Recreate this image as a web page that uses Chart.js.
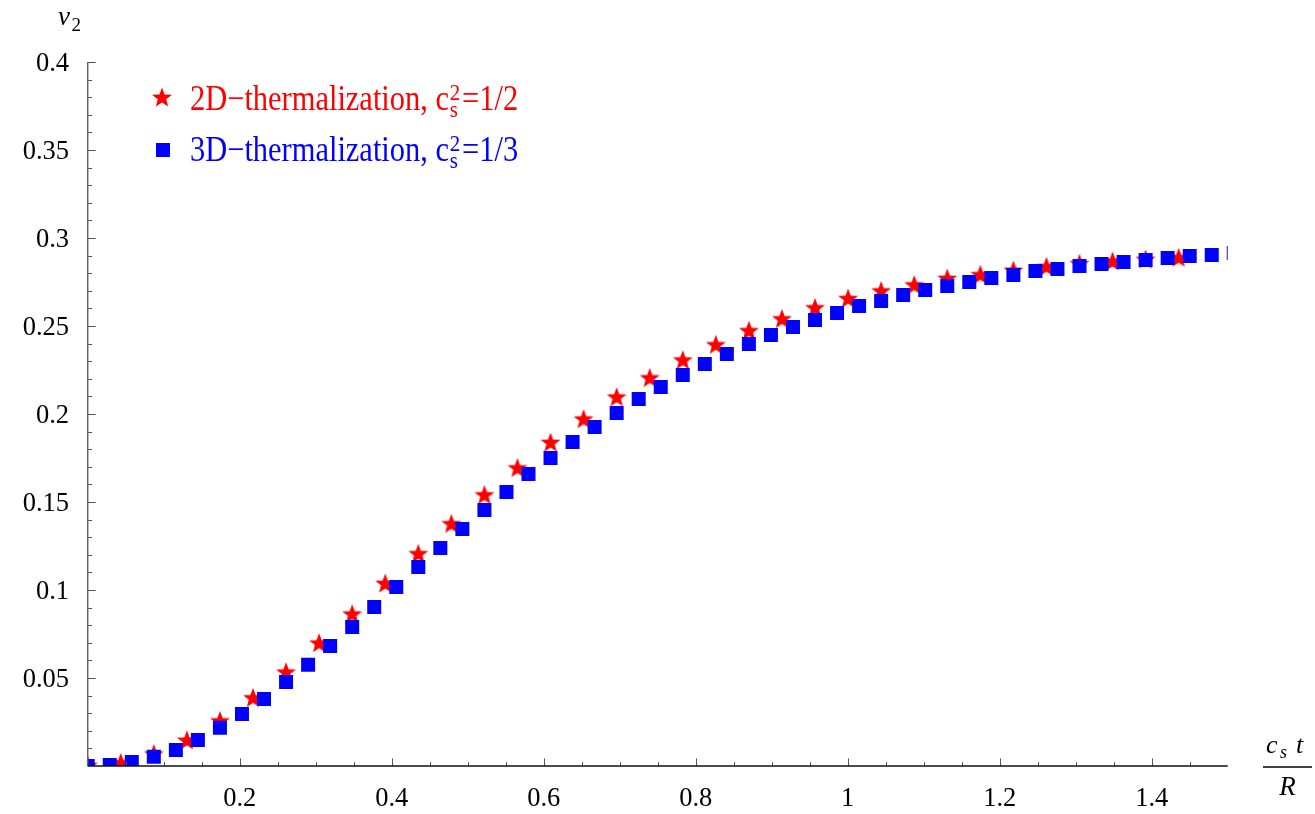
<!DOCTYPE html>
<html>
<head>
<meta charset="utf-8">
<title>v2 vs cs t / R</title>
<script src="https://cdn.jsdelivr.net/npm/chart.js@4.4.1/dist/chart.umd.min.js"></script>
<style>
  html, body { margin: 0; padding: 0; background: #ffffff; }
  #wrap { width: 1315px; height: 814px; }
</style>
</head>
<body>
<div id="wrap"><canvas id="plot" width="1315" height="814"></canvas></div>
<script>
// 2D thermalization, cs^2 = 1/2 (red stars)
const tStars = [0, 0.0435, 0.087, 0.1305, 0.174, 0.2175, 0.261, 0.3045, 0.348, 0.3915,
  0.435, 0.4785, 0.522, 0.5655, 0.609, 0.6525, 0.696, 0.7395, 0.783, 0.8265,
  0.87, 0.9135, 0.957, 1.0005, 1.044, 1.0875, 1.131, 1.1745, 1.218, 1.2615,
  1.305, 1.3485, 1.392, 1.4355];
const v2Stars = [0, 0.0015, 0.0065, 0.0143, 0.0253, 0.0384, 0.053, 0.0695, 0.086, 0.1034,
  0.1203, 0.1373, 0.1537, 0.169, 0.1835, 0.1968, 0.2093, 0.2202, 0.2303, 0.239,
  0.247, 0.2537, 0.26, 0.2653, 0.2696, 0.273, 0.2767, 0.2788, 0.2813, 0.2834,
  0.2851, 0.2864, 0.2875, 0.2885];

// 3D thermalization, cs^2 = 1/3 (blue squares)
const tSquares = [0, 0.029, 0.058, 0.087, 0.116, 0.145, 0.174, 0.203, 0.232, 0.261,
  0.29, 0.319, 0.348, 0.377, 0.406, 0.435, 0.464, 0.493, 0.522, 0.551,
  0.58, 0.609, 0.638, 0.667, 0.696, 0.725, 0.754, 0.783, 0.812, 0.841,
  0.87, 0.899, 0.928, 0.957, 0.986, 1.015, 1.044, 1.073, 1.102, 1.131,
  1.16, 1.189, 1.218, 1.247, 1.276, 1.305, 1.334, 1.363, 1.392, 1.421,
  1.45, 1.479, 1.508];
const v2Squares = [0, 0.0005, 0.0023, 0.0052, 0.0091, 0.0148, 0.0217, 0.0296, 0.038, 0.0477,
  0.0575, 0.0682, 0.079, 0.0903, 0.1017, 0.1131, 0.1239, 0.1347, 0.1455, 0.1557,
  0.1659, 0.175, 0.1841, 0.1926, 0.2006, 0.2085, 0.2153, 0.2222, 0.2284, 0.2341,
  0.2398, 0.2449, 0.2494, 0.2534, 0.2574, 0.2614, 0.2642, 0.2676, 0.2705, 0.2727,
  0.275, 0.2773, 0.279, 0.2813, 0.2824, 0.2841, 0.2852, 0.2864, 0.2875, 0.2886,
  0.2898, 0.2903, 0.2915];

// axis ticks
const xTickValues = [0.2, 0.4, 0.6, 0.8, 1, 1.2, 1.4];
const xTickLabels = ['0.2', '0.4', '0.6', '0.8', '1', '1.2', '1.4'];
const yTickValues = [0.05, 0.1, 0.15, 0.2, 0.25, 0.3, 0.35, 0.4];
const yTickLabels = ['0.05', '0.1', '0.15', '0.2', '0.25', '0.3', '0.35', '0.4'];

// legend entries
const seriesNames = ['2D\u2212thermalization, c', '3D\u2212thermalization, c'];
const seriesSound = ['=1/2', '=1/3'];
const seriesColors = ['#ff0000', '#0000ff'];

const SERIF = '"Liberation Serif", "Times New Roman", serif';

// five-pointed filled star used as a point marker
function makeStar(R, ratio, color) {
  const size = 24;
  const c = document.createElement('canvas');
  c.width = size; c.height = size;
  const g = c.getContext('2d');
  g.fillStyle = color;
  g.beginPath();
  for (let i = 0; i < 10; i++) {
    const r = (i % 2) ? R * ratio : R;
    const a = -Math.PI / 2 + i * Math.PI / 5;
    const px = size / 2 + r * Math.cos(a);
    const py = size / 2 + r * Math.sin(a);
    if (i === 0) g.moveTo(px, py); else g.lineTo(px, py);
  }
  g.closePath();
  g.fill();
  return c;
}
const starMarker = makeStar(10.5, 0.42, seriesColors[0]);

const axesPlugin = {
  id: 'mathAxes',
  afterDatasetsDraw(chart) {
    const { ctx, scales: { x, y } } = chart;
    const xl = x.getPixelForValue(0), xr = x.getPixelForValue(1.5);
    const yb = y.getPixelForValue(0), yt = y.getPixelForValue(0.4);
    ctx.save();

    // tick marks (pointing into the plot)
    ctx.strokeStyle = '#555555';
    ctx.lineWidth = 1;
    for (let i = 1; i < 30; i++) {
      const v = i * 0.05;
      const px = Math.round(x.getPixelForValue(v)) + 0.5;
      const major = (i % 4 === 0);
      ctx.beginPath();
      ctx.moveTo(px, yb);
      ctx.lineTo(px, yb - (major ? 7.5 : 4));
      ctx.stroke();
    }
    for (let i = 1; i <= 40; i++) {
      const v = i * 0.01;
      const py = Math.round(y.getPixelForValue(v)) + 0.5;
      const major = (i % 5 === 0);
      ctx.beginPath();
      ctx.moveTo(xl, py);
      ctx.lineTo(xl + (major ? 8 : 4.5), py);
      ctx.stroke();
    }

    // axis lines
    ctx.lineWidth = 1.5;
    ctx.strokeStyle = '#666666';
    ctx.beginPath();
    ctx.moveTo(xl, yb);
    ctx.lineTo(xl, yt);
    ctx.stroke();
    ctx.strokeStyle = '#111111';
    ctx.beginPath();
    ctx.moveTo(xl, yb);
    ctx.lineTo(xr, yb);
    ctx.stroke();

    // tick labels
    ctx.fillStyle = '#000000';
    ctx.font = '26.5px ' + SERIF;
    ctx.textAlign = 'center';
    ctx.textBaseline = 'alphabetic';
    xTickValues.forEach((v, i) => {
      ctx.fillText(xTickLabels[i], x.getPixelForValue(v), 806);
    });
    ctx.textAlign = 'right';
    yTickValues.forEach((v, i) => {
      ctx.fillText(yTickLabels[i], 69, y.getPixelForValue(v) + 9);
    });

    // y-axis title: v2
    ctx.textAlign = 'left';
    ctx.font = 'italic 27px ' + SERIF;
    ctx.fillText('v', 58, 25);
    ctx.font = '19px ' + SERIF;
    ctx.fillText('2', 71.5, 31);

    // x-axis title: cs t / R
    ctx.font = 'italic 26px ' + SERIF;
    ctx.fillText('c', 1266, 753);
    ctx.font = 'italic 18px ' + SERIF;
    ctx.fillText('s', 1280, 758);
    ctx.font = 'italic 26px ' + SERIF;
    ctx.fillText('t', 1296, 753);
    ctx.strokeStyle = '#000000';
    ctx.lineWidth = 1.4;
    ctx.beginPath();
    ctx.moveTo(1263, 767);
    ctx.lineTo(1312, 767);
    ctx.stroke();
    ctx.textAlign = 'center';
    ctx.font = 'italic 27px ' + SERIF;
    ctx.fillText('R', 1287.5, 795);
    ctx.restore();
  },
  afterDraw(chart) {
    const { ctx } = chart;
    ctx.save();
    // legend markers
    ctx.drawImage(starMarker, 162 - 12, 98 - 12);
    ctx.fillStyle = seriesColors[1];
    ctx.fillRect(163 - 7, 150 - 7, 14, 14);
    // legend text with cs^2, set in a slightly condensed serif
    const rows = [109.5, 160.5];
    const condense = 0.87;
    rows.forEach((base, i) => {
      ctx.save();
      ctx.translate(190, base);
      ctx.scale(condense, 1);
      ctx.fillStyle = seriesColors[i];
      ctx.textAlign = 'left';
      ctx.textBaseline = 'alphabetic';
      let xpos = 0;
      ctx.font = '35px ' + SERIF;
      ctx.fillText(seriesNames[i], xpos, 0);
      xpos += ctx.measureText(seriesNames[i]).width + 1;
      ctx.font = '24px ' + SERIF;
      ctx.fillText('2', xpos, -9.5);
      const w2 = ctx.measureText('2').width;
      ctx.fillText('s', xpos, 7.5);
      const ws = ctx.measureText('s').width;
      xpos += Math.max(w2, ws) + 2;
      ctx.font = '35px ' + SERIF;
      ctx.fillText(seriesSound[i], xpos, 0);
      ctx.restore();
    });
    ctx.restore();
  }
};

new Chart(document.getElementById('plot'), {
  type: 'scatter',
  data: {
    datasets: [
      {
        label: '2D\u2212thermalization, cs2=1/2',
        data: tStars.map((t, i) => ({ x: t, y: v2Stars[i] })),
        pointStyle: starMarker,
        pointRadius: 10.5,
        order: 1,
        clip: 0
      },
      {
        label: '3D\u2212thermalization, cs2=1/3',
        data: tSquares.map((t, i) => ({ x: t, y: v2Squares[i] })),
        pointStyle: 'rect',
        pointRadius: 9.9,
        pointBackgroundColor: seriesColors[1],
        pointBorderColor: seriesColors[1],
        pointBorderWidth: 0,
        order: 0,
        clip: 0
      }
    ]
  },
  options: {
    responsive: false,
    animation: false,
    devicePixelRatio: 1,
    events: [],
    layout: { padding: { left: 87.7, right: 87.3, top: 62, bottom: 48 } },
    scales: {
      x: { type: 'linear', min: 0, max: 1.5, display: false },
      y: { type: 'linear', min: 0, max: 0.4, display: false }
    },
    plugins: {
      legend: { display: false },
      tooltip: { enabled: false }
    }
  },
  plugins: [axesPlugin]
});
</script>
</body>
</html>
